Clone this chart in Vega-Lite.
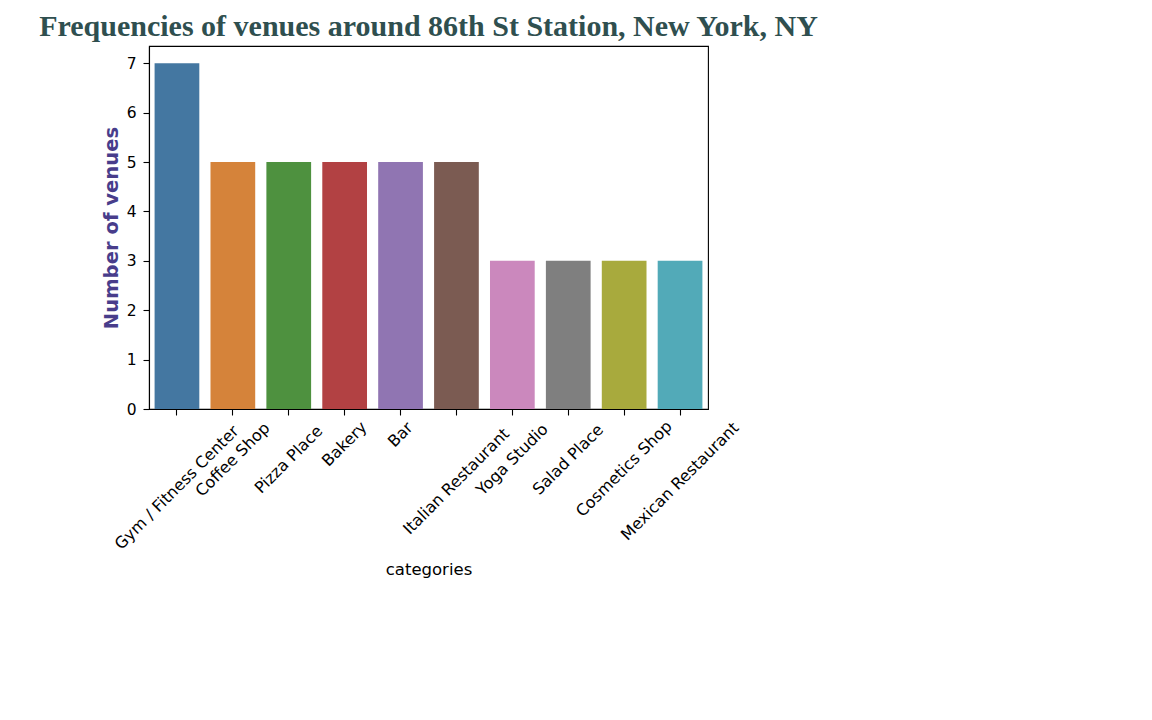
{
  "$schema": "https://vega.github.io/schema/vega-lite/v6.json",
  "autosize": "none",
  "width": 559,
  "height": 363,
  "padding": {"left": 149, "top": 46, "right": 444, "bottom": 311},
  "background": "white",
  "title": {
    "text": "Frequencies of venues around 86th St Station, New York, NY",
    "font": "Liberation Serif",
    "fontSize": 30,
    "fontWeight": "bold",
    "color": "#2f4f4f",
    "anchor": "middle",
    "frame": "group",
    "offset": 4
  },
  "config": {
    "view": {"stroke": "black", "strokeWidth": 1.1},
    "axis": {
      "labelFont": "DejaVu Sans",
      "labelFontSize": 15.5,
      "labelColor": "black",
      "titleFont": "DejaVu Sans",
      "domainColor": "black",
      "domainWidth": 1.1,
      "tickColor": "black",
      "tickWidth": 1.1,
      "grid": false
    }
  },
  "data": {
    "values": [
      {"category": "Gym / Fitness Center", "count": 7},
      {"category": "Coffee Shop", "count": 5},
      {"category": "Pizza Place", "count": 5},
      {"category": "Bakery", "count": 5},
      {"category": "Bar", "count": 5},
      {"category": "Italian Restaurant", "count": 5},
      {"category": "Yoga Studio", "count": 3},
      {"category": "Salad Place", "count": 3},
      {"category": "Cosmetics Shop", "count": 3},
      {"category": "Mexican Restaurant", "count": 3}
    ]
  },
  "encoding": {
    "x": {
      "field": "category",
      "type": "nominal",
      "sort": null,
      "scale": {"paddingInner": 0.2, "paddingOuter": 0.1},
      "axis": {
        "title": "categories",
        "titleFontSize": 16.5,
        "titleFontWeight": "normal",
        "titleColor": "black",
        "titleY": 165,
        "titleBaseline": "alphabetic",
        "labels": false,
        "tickSize": 6
      }
    }
  },
  "layer": [
    {
      "mark": {"type": "bar"},
      "encoding": {
        "y": {
          "field": "count",
          "type": "quantitative",
          "scale": {"domain": [0, 7.35], "nice": false, "zero": true},
          "axis": {
            "title": "Number of venues",
            "titleFontSize": 19.6,
            "titleFontWeight": "bold",
            "titleColor": "#483d8b",
            "titleX": -32,
            "titleY": 181.5,
            "titleAngle": -90,
            "titleAlign": "center",
            "titleBaseline": "alphabetic",
            "values": [0, 1, 2, 3, 4, 5, 6, 7],
            "format": "d",
            "tickSize": 6,
            "labelPadding": 7
          }
        },
        "color": {
          "field": "category",
          "type": "nominal",
          "sort": null,
          "legend": null,
          "scale": {
            "domain": ["Gym / Fitness Center", "Coffee Shop", "Pizza Place", "Bakery", "Bar", "Italian Restaurant", "Yoga Studio", "Salad Place", "Cosmetics Shop", "Mexican Restaurant"],
            "range": ["#4477a1", "#d5833a", "#4e913f", "#b24143", "#9075b2", "#7b5b52", "#cb88bd", "#7f7f7f", "#a8aa3d", "#52aab8"]
          }
        }
      }
    },
    {
      "mark": {
        "type": "text",
        "font": "DejaVu Sans",
        "fontSize": 16,
        "color": "black",
        "angle": -45,
        "align": "center",
        "baseline": "middle",
        "theta": 3.14159265,
        "radius": {"expr": "11 + (length(datum.category)*8.8 + 15.5)*0.3536"}
      },
      "encoding": {
        "y": {"datum": 0},
        "text": {"field": "category"}
      }
    }
  ]
}
